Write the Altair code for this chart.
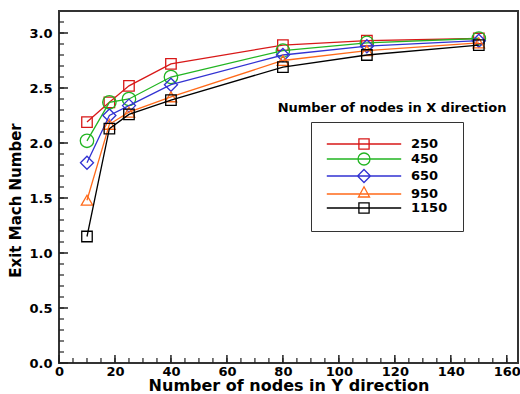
import altair as alt
import pandas as pd

# ---- data ----
ny = [10, 18, 25, 40, 80, 110, 150]
series_names = ["250", "450", "650", "950", "1150"]
mach_250 = [2.19, 2.37, 2.52, 2.72, 2.89, 2.93, 2.95]
mach_450 = [2.02, 2.37, 2.40, 2.60, 2.84, 2.91, 2.95]
mach_650 = [1.82, 2.25, 2.34, 2.53, 2.80, 2.88, 2.93]
mach_950 = [1.48, 2.17, 2.28, 2.42, 2.75, 2.84, 2.91]
mach_1150 = [1.15, 2.13, 2.26, 2.39, 2.69, 2.80, 2.89]
x_labels = [0, 20, 40, 60, 80, 100, 120, 140, 160]
y_labels = [0, 0.5, 1, 1.5, 2, 2.5, 3]
x_minor = list(range(0, 161, 5))
y_minor = [round(i * 0.1, 1) for i in range(0, 32)]

colors = ["#d81818", "#22b522", "#3232d2", "#ff6a1a", "#000000"]
shapes = ["square", "circle", "diamond", "triangle-up", "square"]
sizes = [110, 180, 170, 130, 110]
# legend symbols: line segment with the marker on it (unit = 6 px)
legend_paths = [
    "M-6.2,0H6.2M-0.85,-0.85H0.85V0.85H-0.85Z",
    "M-6.2,0H6.2M1,0A1,1 0 1,1 -1,0A1,1 0 1,1 1,0Z",
    "M-6.2,0H6.2M0,-1.08L1.08,0L0,1.08L-1.08,0Z",
    "M-6.2,0H6.2M0,-1.2L0.92,0.5H-0.92Z",
    "M-6.2,0H6.2M-0.85,-0.85H0.85V0.85H-0.85Z",
]

rows = []
for name, vals in zip(series_names, [mach_250, mach_450, mach_650, mach_950, mach_1150]):
    for xv, yv in zip(ny, vals):
        rows.append({"series": name, "ny": xv, "mach": yv})
df = pd.DataFrame(rows)

W, H = 459, 352
FONT = "DejaVu Sans"
xscale = alt.Scale(domain=[0, 164], nice=False, zero=False)
yscale = alt.Scale(domain=[0, 3.2], nice=False, zero=False)

xaxis = alt.Axis(values=x_labels, ticks=False, domain=False, grid=False,
                 labelFont=FONT, labelFontWeight="bold", labelFontSize=13,
                 labelColor="black", labelPadding=2, labelFlush=False,
                 title="Number of nodes in Y direction", titleFont=FONT,
                 titleFontWeight="bold", titleFontSize=16, titleColor="black",
                 titlePadding=-1)
yaxis = alt.Axis(values=y_labels, ticks=False, domain=False, grid=False,
                 labelFont=FONT, labelFontWeight="bold", labelFontSize=13,
                 labelColor="black", labelPadding=7, labelFlush=False,
                 title="Exit Mach Number", titleFont=FONT,
                 titleFontWeight="bold", titleFontSize=15, titleColor="black",
                 titleX=-44, titleY=189, titleAlign="center", titleBaseline="middle",
                 titleAngle=270)

base = alt.Chart(df)

series_layers = []
for i, (name, col, shp, sz) in enumerate(zip(series_names, colors, shapes, sizes)):
    sub = base.transform_filter(alt.datum.series == name)
    if i == 0:
        xenc = alt.X("ny:Q", scale=xscale, axis=xaxis)
        yenc = alt.Y("mach:Q", scale=yscale, axis=yaxis)
    else:
        xenc = alt.X("ny:Q", scale=xscale)
        yenc = alt.Y("mach:Q", scale=yscale)
    series_layers.append(sub.mark_line(color=col, strokeWidth=1.3).encode(x=xenc, y=yenc))
    series_layers.append(
        sub.mark_point(shape=shp, size=sz, filled=False, color=col, strokeWidth=1.3, opacity=1)
        .encode(x=alt.X("ny:Q", scale=xscale), y=alt.Y("mach:Q", scale=yscale))
    )

leg = alt.Legend(
    title=None, orient="none", legendX=252, legendY=111,
    labelFont=FONT, labelFontWeight="bold", labelFontSize=13, labelColor="black",
    symbolSize=144, symbolStrokeWidth=1.3, symbolOpacity=1,
    symbolOffset=31, labelOffset=40, padding=15, rowPadding=-2,
    strokeColor="#333333", fillColor="white",
)
legend_layer = base.mark_point(filled=False, opacity=0).encode(
    x=alt.X("ny:Q", scale=xscale),
    y=alt.Y("mach:Q", scale=yscale),
    color=alt.Color("series:N", scale=alt.Scale(domain=series_names, range=colors), legend=leg),
    shape=alt.Shape("series:N", scale=alt.Scale(domain=series_names, range=legend_paths), legend=leg),
)

legend_title = alt.Chart(pd.DataFrame({"t": ["Number of nodes in X direction"]})).mark_text(
    font=FONT, fontWeight="bold", fontSize=13, color="black", align="center", baseline="middle"
).encode(text="t:N", x=alt.value(333), y=alt.value(97))

xmaj = alt.Chart(pd.DataFrame({"v": x_labels})).mark_rule(color="#222", strokeWidth=1.5).encode(
    x=alt.X("v:Q", scale=xscale), y=alt.value(H), y2=alt.value(H - 8))
xmin = alt.Chart(pd.DataFrame({"v": x_minor})).mark_rule(color="#222", strokeWidth=1.2).encode(
    x=alt.X("v:Q", scale=xscale), y=alt.value(H), y2=alt.value(H - 5))
ymaj = alt.Chart(pd.DataFrame({"v": y_labels})).mark_rule(color="#222", strokeWidth=1.5).encode(
    y=alt.Y("v:Q", scale=yscale), x=alt.value(0), x2=alt.value(9))
ymin = alt.Chart(pd.DataFrame({"v": y_minor})).mark_rule(color="#222", strokeWidth=1.2).encode(
    y=alt.Y("v:Q", scale=yscale), x=alt.value(0), x2=alt.value(5))

chart = alt.layer(
    *series_layers, xmin, xmaj, ymin, ymaj, legend_layer, legend_title
).properties(
    width=W, height=H,
    autosize=alt.AutoSizeParams(type="none"),
    padding={"left": 59, "top": 11, "right": 2, "bottom": 31},
    background="white",
).configure_view(stroke="#333333", strokeWidth=2)

chart.save("out.html", embed_options={"renderer": "svg", "actions": False})
